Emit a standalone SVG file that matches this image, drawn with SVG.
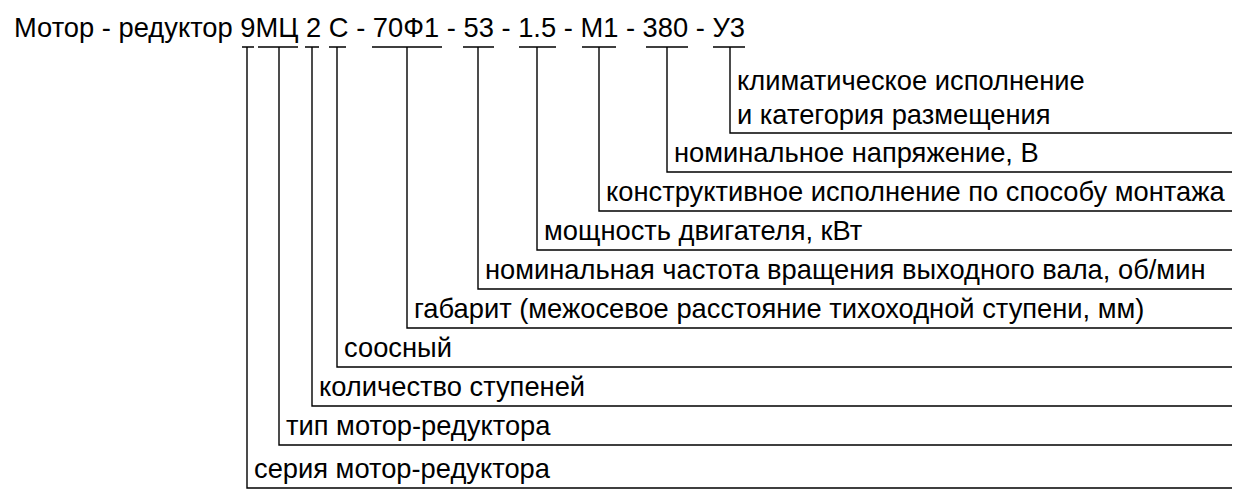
<svg xmlns="http://www.w3.org/2000/svg" width="1250" height="501" viewBox="0 0 1250 501">
<style>
text{font-family:"Liberation Sans",Arial,sans-serif;fill:#000}
.h{font-size:28.5px}
.l{font-size:27.3px}
.c{fill:none;stroke:#000;stroke-width:1.4}
</style>
<rect width="1250" height="501" fill="#fff"/>
<g id="header"><text class="h" x="14" y="37" textLength="731" lengthAdjust="spacingAndGlyphs">Мотор - редуктор 9МЦ 2 С - 70Ф1 - 53 - 1.5 - М1 - 380 - У3</text></g>
<g id="connectors" class="c">
<path d="M242 47H254M247 47V488H1232"/>
<path d="M258 47H298M279 47V445H1232"/>
<path d="M305 47H319M312 47V406H1232"/>
<path d="M329 47H346M337 47V367H1232"/>
<path d="M372 47H442M407 47V328H1232"/>
<path d="M463 47H494M478 47V289H1232"/>
<path d="M519 47H556M537 47V250H1232"/>
<path d="M582 47H616M599 47V211H1232"/>
<path d="M646 47H688M667 47V172H1232"/>
<path d="M713 47H745M730 47V133H1232"/>
</g>
<g id="n-climate"><text class="l" x="737" y="90">климатическое исполнение</text><text class="l" x="737" y="124">и категория размещения</text></g>
<g id="n-voltage"><text class="l" x="674" y="162">номинальное напряжение, В</text></g>
<g id="n-mount"><text class="l" x="606" y="201">конструктивное исполнение по способу монтажа</text></g>
<g id="n-power"><text class="l" x="544" y="240">мощность двигателя, кВт</text></g>
<g id="n-speed"><text class="l" x="485" y="279">номинальная частота вращения выходного вала, об/мин</text></g>
<g id="n-size"><text class="l" x="414" y="318">габарит (межосевое расстояние тихоходной ступени, мм)</text></g>
<g id="n-coax"><text class="l" x="344" y="357">соосный</text></g>
<g id="n-stages"><text class="l" x="319" y="396">количество ступеней</text></g>
<g id="n-type"><text class="l" x="286" y="435">тип мотор-редуктора</text></g>
<g id="n-series"><text class="l" x="254" y="478">серия мотор-редуктора</text></g>
</svg>
